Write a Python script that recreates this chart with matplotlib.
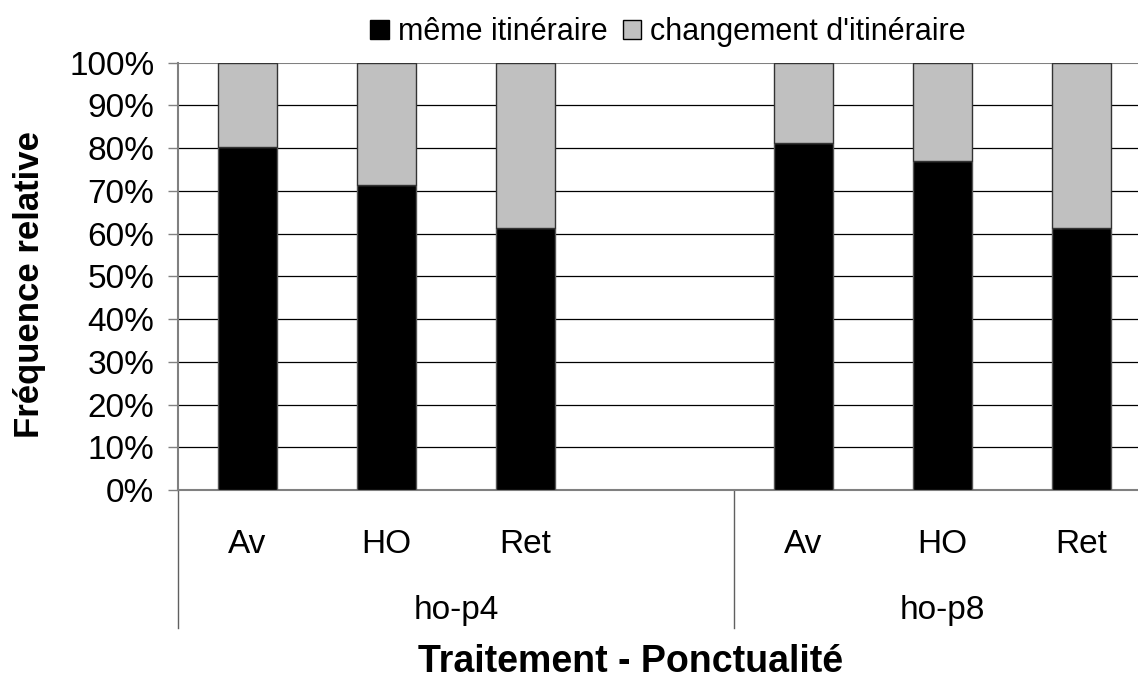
import matplotlib.pyplot as plt
from matplotlib.patches import Patch
from matplotlib.ticker import PercentFormatter
import numpy as np

plt.rcParams['font.family'] = ['Liberation Sans', 'DejaVu Sans']

# donnees
groupes = ['ho-p4', 'ho-p8']
ponctualite = ['Av', 'HO', 'Ret']
meme = [80.2, 71.4, 61.2, 81.3, 76.9, 61.2]
changement = [100 - v for v in meme]
positions = [0, 1, 2, 4, 5, 6]

fig = plt.figure(figsize=(11.38, 6.79), dpi=100)
W, H = 1138, 679
ax = fig.add_axes([178 / W, (H - 490) / H, 973 / W, (490 - 62.7) / H])

# barres empilees
ax.bar(positions, meme, width=0.42, color='black', edgecolor='#555555', linewidth=1, zorder=3)
ax.bar(positions, changement, width=0.42, bottom=meme, color='#c0c0c0',
       edgecolor='#333333', linewidth=1, zorder=3)

# grille horizontale
for v in range(10, 100, 10):
    ax.axhline(v, color='black', linewidth=0.9, zorder=1)
ax.axhline(100, color='#808080', linewidth=1.5, zorder=1)

ax.set_xlim(-0.5, 6.5)
ax.set_ylim(0, 100)
ax.set_yticks(np.arange(0, 101, 10))
ax.yaxis.set_major_formatter(PercentFormatter(decimals=0))
ax.tick_params(axis='y', labelsize=24, length=7, width=1, color='#808080', pad=10)

for s in ['top', 'right']:
    ax.spines[s].set_visible(False)
ax.spines['left'].set_color('#808080')
ax.spines['left'].set_linewidth(1.5)
ax.spines['bottom'].set_color('#808080')
ax.spines['bottom'].set_linewidth(1.5)

# axe des categories a deux niveaux
ax.set_xticks(positions)
ax.set_xticklabels(ponctualite * 2, fontsize=24)
ax.tick_params(axis='x', length=0, pad=28)

trans = ax.get_xaxis_transform()
for x in [-0.5, 3.5]:
    ax.plot([x, x], [0, -138 / 427.3], color='#606060', linewidth=1,
            transform=trans, clip_on=False)
for i, g in enumerate(groupes):
    ax.text(1.5 + 3.5 * i, -121 / 427.3, g, fontsize=24, ha='center', va='center',
            transform=trans)

ax.set_ylabel('Fréquence relative', fontsize=25, fontweight='bold')
ax.yaxis.set_label_coords(-132 / 973, 0.48)
fig.text(631 / W, 1 - 662 / H, 'Traitement - Ponctualité', fontsize=27,
         fontweight='bold', ha='center', va='center')

handles = [Patch(facecolor='black', edgecolor='black', label='même itinéraire'),
           Patch(facecolor='#c0c0c0', edgecolor='black', label="changement d'itinéraire")]
fig.legend(handles=handles, loc='center', bbox_to_anchor=(668 / W, 1 - 32 / H), ncol=2,
           frameon=False, fontsize=22, handlelength=0.6, handleheight=0.6,
           handletextpad=0.3, columnspacing=0.5, borderpad=0)

fig.savefig('out.png', dpi=100)
